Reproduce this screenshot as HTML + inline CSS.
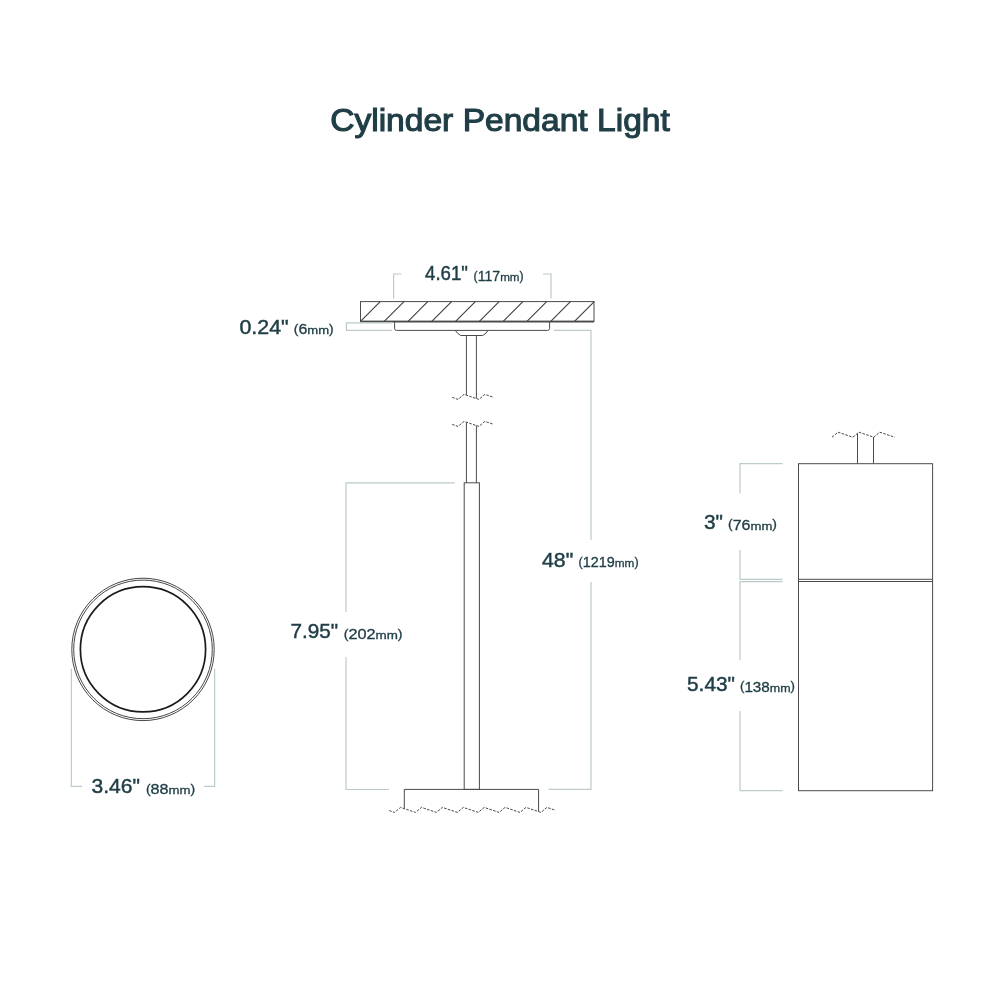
<!DOCTYPE html>
<html><head><meta charset="utf-8"><style>
html,body{margin:0;padding:0;background:#fff;}
svg{display:block;} .wrap{will-change:transform;}
text{font-family:"Liberation Sans",sans-serif;}
</style></head><body>
<div class="wrap"><svg width="1000" height="1000" viewBox="0 0 1000 1000">
<rect width="1000" height="1000" fill="#fff"/>
<rect x="360.5" y="301.6" width="233.50" height="19.70" fill="none" stroke="#4a4a4a" stroke-width="1.0"/>
<line x1="360.50" y1="321.3" x2="380.20" y2="301.6" stroke="#3a3a3a" stroke-width="1.05"/>
<line x1="384.28" y1="321.3" x2="403.98" y2="301.6" stroke="#3a3a3a" stroke-width="1.05"/>
<line x1="408.06" y1="321.3" x2="427.76" y2="301.6" stroke="#3a3a3a" stroke-width="1.05"/>
<line x1="431.84" y1="321.3" x2="451.54" y2="301.6" stroke="#3a3a3a" stroke-width="1.05"/>
<line x1="455.62" y1="321.3" x2="475.32" y2="301.6" stroke="#3a3a3a" stroke-width="1.05"/>
<line x1="479.40" y1="321.3" x2="499.10" y2="301.6" stroke="#3a3a3a" stroke-width="1.05"/>
<line x1="503.18" y1="321.3" x2="522.88" y2="301.6" stroke="#3a3a3a" stroke-width="1.05"/>
<line x1="526.96" y1="321.3" x2="546.66" y2="301.6" stroke="#3a3a3a" stroke-width="1.05"/>
<line x1="550.74" y1="321.3" x2="570.44" y2="301.6" stroke="#3a3a3a" stroke-width="1.05"/>
<line x1="574.52" y1="321.3" x2="594.22" y2="301.6" stroke="#3a3a3a" stroke-width="1.05"/>
<line x1="360.5" y1="321.6" x2="594.0" y2="321.6" stroke="#4a4a4a" stroke-width="1.6"/>
<path d="M394.6,321.8 L394.6,328.4 Q394.6,330.4 396.6,330.4 L547.6,330.4 Q549.6,330.4 549.6,328.4 L549.6,321.8" fill="none" stroke="#4a4a4a" stroke-width="1.0"/>
<path d="M455.3,330.4 Q457.2,333.6 460.7,335.5 L482.7,335.5 Q486.3,333.6 488,330.4" fill="none" stroke="#4a4a4a" stroke-width="1.0"/>
<line x1="466.4" y1="335.5" x2="466.4" y2="395.21" stroke="#4a4a4a" stroke-width="1.0"/>
<line x1="476.4" y1="335.5" x2="476.4" y2="398.56" stroke="#4a4a4a" stroke-width="1.0"/>
<polyline points="452.20,397.45 458.00,399.40 464.00,394.40 478.90,399.40 484.90,394.40 492.70,397.02" fill="none" stroke="#4a4a4a" stroke-width="1.0" stroke-dasharray="2.6,1.3"/>
<polyline points="452.20,424.45 458.00,426.40 464.00,421.40 478.90,426.40 484.90,421.40 492.70,424.02" fill="none" stroke="#4a4a4a" stroke-width="1.0" stroke-dasharray="2.6,1.3"/>
<line x1="466.4" y1="422.21" x2="466.4" y2="482.8" stroke="#4a4a4a" stroke-width="1.0"/>
<line x1="476.4" y1="425.56" x2="476.4" y2="482.8" stroke="#4a4a4a" stroke-width="1.0"/>
<rect x="464.2" y="482.8" width="15.2" height="306.6" fill="none" stroke="#4a4a4a" stroke-width="1.0"/>
<polyline points="404.3,808.64 404.3,789.4 538.6,789.4 538.6,811.63" fill="none" stroke="#4a4a4a" stroke-width="1.0"/>
<polyline points="389.20,810.59 394.60,812.40 400.60,807.40 415.50,812.40 421.50,807.40 436.40,812.40 442.40,807.40 457.30,812.40 463.30,807.40 478.20,812.40 484.20,807.40 499.10,812.40 505.10,807.40 520.00,812.40 526.00,807.40 540.90,812.40 546.90,807.40 555.50,810.29" fill="none" stroke="#4a4a4a" stroke-width="1.0" stroke-dasharray="2.6,1.3"/>
<rect x="798.5" y="463.7" width="134.1" height="327" fill="none" stroke="#4a4a4a" stroke-width="1.0"/>
<line x1="798.5" y1="579.3" x2="932.6" y2="579.3" stroke="#4a4a4a" stroke-width="1.0"/>
<line x1="798.5" y1="581.5" x2="932.6" y2="581.5" stroke="#4a4a4a" stroke-width="1.0"/>
<line x1="857.5" y1="433.37" x2="857.5" y2="463.7" stroke="#4a4a4a" stroke-width="1"/>
<line x1="873.5" y1="437.10" x2="873.5" y2="463.7" stroke="#4a4a4a" stroke-width="1"/>
<polyline points="832.00,437.20 838.00,432.20 852.90,437.20 858.90,432.20 873.80,437.20 879.80,432.20 894.70,437.20 894.80,437.12" fill="none" stroke="#4a4a4a" stroke-width="1.0" stroke-dasharray="2.6,1.3"/>
<circle cx="143.0" cy="649.4" r="71.2" fill="none" stroke="#3c3c3c" stroke-width="0.95"/>
<circle cx="143.0" cy="649.4" r="69.3" fill="none" stroke="#3c3c3c" stroke-width="0.95"/>
<circle cx="143.0" cy="649.3" r="62.6" fill="none" stroke="#1a1a1a" stroke-width="1.7"/>
<polyline points="401.6,274 393.6,274 393.6,298.6" fill="none" stroke="#bccbc9" stroke-width="1.2"/>
<polyline points="543,274 551,274 551,298.6" fill="none" stroke="#bccbc9" stroke-width="1.2"/>
<polyline points="391.8,322.9 346.4,322.9 346.4,330.4 391.8,330.4" fill="none" stroke="#bccbc9" stroke-width="1.2"/>
<polyline points="554,330.4 591,330.4 591,540" fill="none" stroke="#bccbc9" stroke-width="1.2"/>
<polyline points="591,582 591,789.3 548.6,789.3" fill="none" stroke="#bccbc9" stroke-width="1.2"/>
<polyline points="454.7,482.8 346,482.8 346,612" fill="none" stroke="#bccbc9" stroke-width="1.2"/>
<polyline points="346,657 346,789.5 389,789.5" fill="none" stroke="#bccbc9" stroke-width="1.2"/>
<polyline points="71.4,668.7 71.4,786.4 82.1,786.4" fill="none" stroke="#bccbc9" stroke-width="1.2"/>
<polyline points="214.6,668.7 214.6,786.4 204.2,786.4" fill="none" stroke="#bccbc9" stroke-width="1.2"/>
<polyline points="782.6,463.7 740,463.7 740,493.6" fill="none" stroke="#bccbc9" stroke-width="1.2"/>
<polyline points="740,550 740,579.3 782.6,579.3" fill="none" stroke="#bccbc9" stroke-width="1.2"/>
<polyline points="782.6,581.6 740,581.6 740,660" fill="none" stroke="#bccbc9" stroke-width="1.2"/>
<polyline points="740,711 740,790.7 782.6,790.7" fill="none" stroke="#bccbc9" stroke-width="1.2"/>
<text x="330.2" y="131.3" font-size="31.6" fill="#203e46" stroke="#203e46" stroke-width="1.1" textLength="339.6" lengthAdjust="spacingAndGlyphs">Cylinder Pendant Light</text>
<text x="425" y="280.3" font-size="21" fill="#203e46" stroke="#203e46" stroke-width="0.45" textLength="43.0" lengthAdjust="spacingAndGlyphs">4.61"</text>
<text x="473.6" y="280.90000000000003" font-size="14" fill="#203e46" stroke="#203e46" stroke-width="0.3" textLength="50.0" lengthAdjust="spacingAndGlyphs"><tspan font-size="12.2" dy="-1.3">(</tspan><tspan dy="1.3">117</tspan><tspan font-size="11.5">mm</tspan><tspan font-size="12.2" dy="-1.3">)</tspan></text>
<text x="239.4" y="333.5" font-size="21" fill="#203e46" stroke="#203e46" stroke-width="0.45" textLength="49.3" lengthAdjust="spacingAndGlyphs">0.24"</text>
<text x="293.8" y="334.1" font-size="14" fill="#203e46" stroke="#203e46" stroke-width="0.3" textLength="39.9" lengthAdjust="spacingAndGlyphs"><tspan font-size="12.2" dy="-1.3">(</tspan><tspan dy="1.3">6</tspan><tspan font-size="11.5">mm</tspan><tspan font-size="12.2" dy="-1.3">)</tspan></text>
<text x="542" y="566.6" font-size="21" fill="#203e46" stroke="#203e46" stroke-width="0.45" textLength="31.2" lengthAdjust="spacingAndGlyphs">48"</text>
<text x="578.6" y="567.2" font-size="14" fill="#203e46" stroke="#203e46" stroke-width="0.3" textLength="60.0" lengthAdjust="spacingAndGlyphs"><tspan font-size="12.2" dy="-1.3">(</tspan><tspan dy="1.3">1219</tspan><tspan font-size="11.5">mm</tspan><tspan font-size="12.2" dy="-1.3">)</tspan></text>
<text x="290.5" y="638.3" font-size="21" fill="#203e46" stroke="#203e46" stroke-width="0.45" textLength="47.6" lengthAdjust="spacingAndGlyphs">7.95"</text>
<text x="343.7" y="638.9" font-size="14" fill="#203e46" stroke="#203e46" stroke-width="0.3" textLength="58.8" lengthAdjust="spacingAndGlyphs"><tspan font-size="12.2" dy="-1.3">(</tspan><tspan dy="1.3">202</tspan><tspan font-size="11.5">mm</tspan><tspan font-size="12.2" dy="-1.3">)</tspan></text>
<text x="91.5" y="793.2" font-size="21" fill="#203e46" stroke="#203e46" stroke-width="0.45" textLength="48.5" lengthAdjust="spacingAndGlyphs">3.46"</text>
<text x="145.9" y="793.8000000000001" font-size="14" fill="#203e46" stroke="#203e46" stroke-width="0.3" textLength="49.3" lengthAdjust="spacingAndGlyphs"><tspan font-size="12.2" dy="-1.3">(</tspan><tspan dy="1.3">88</tspan><tspan font-size="11.5">mm</tspan><tspan font-size="12.2" dy="-1.3">)</tspan></text>
<text x="704" y="529" font-size="21" fill="#203e46" stroke="#203e46" stroke-width="0.45" textLength="19.0" lengthAdjust="spacingAndGlyphs">3"</text>
<text x="728" y="529.6" font-size="14" fill="#203e46" stroke="#203e46" stroke-width="0.3" textLength="49.0" lengthAdjust="spacingAndGlyphs"><tspan font-size="12.2" dy="-1.3">(</tspan><tspan dy="1.3">76</tspan><tspan font-size="11.5">mm</tspan><tspan font-size="12.2" dy="-1.3">)</tspan></text>
<text x="687" y="691" font-size="21" fill="#203e46" stroke="#203e46" stroke-width="0.45" textLength="48.0" lengthAdjust="spacingAndGlyphs">5.43"</text>
<text x="740" y="691.6" font-size="14" fill="#203e46" stroke="#203e46" stroke-width="0.3" textLength="55.0" lengthAdjust="spacingAndGlyphs"><tspan font-size="12.2" dy="-1.3">(</tspan><tspan dy="1.3">138</tspan><tspan font-size="11.5">mm</tspan><tspan font-size="12.2" dy="-1.3">)</tspan></text>
</svg></div>
</body></html>
